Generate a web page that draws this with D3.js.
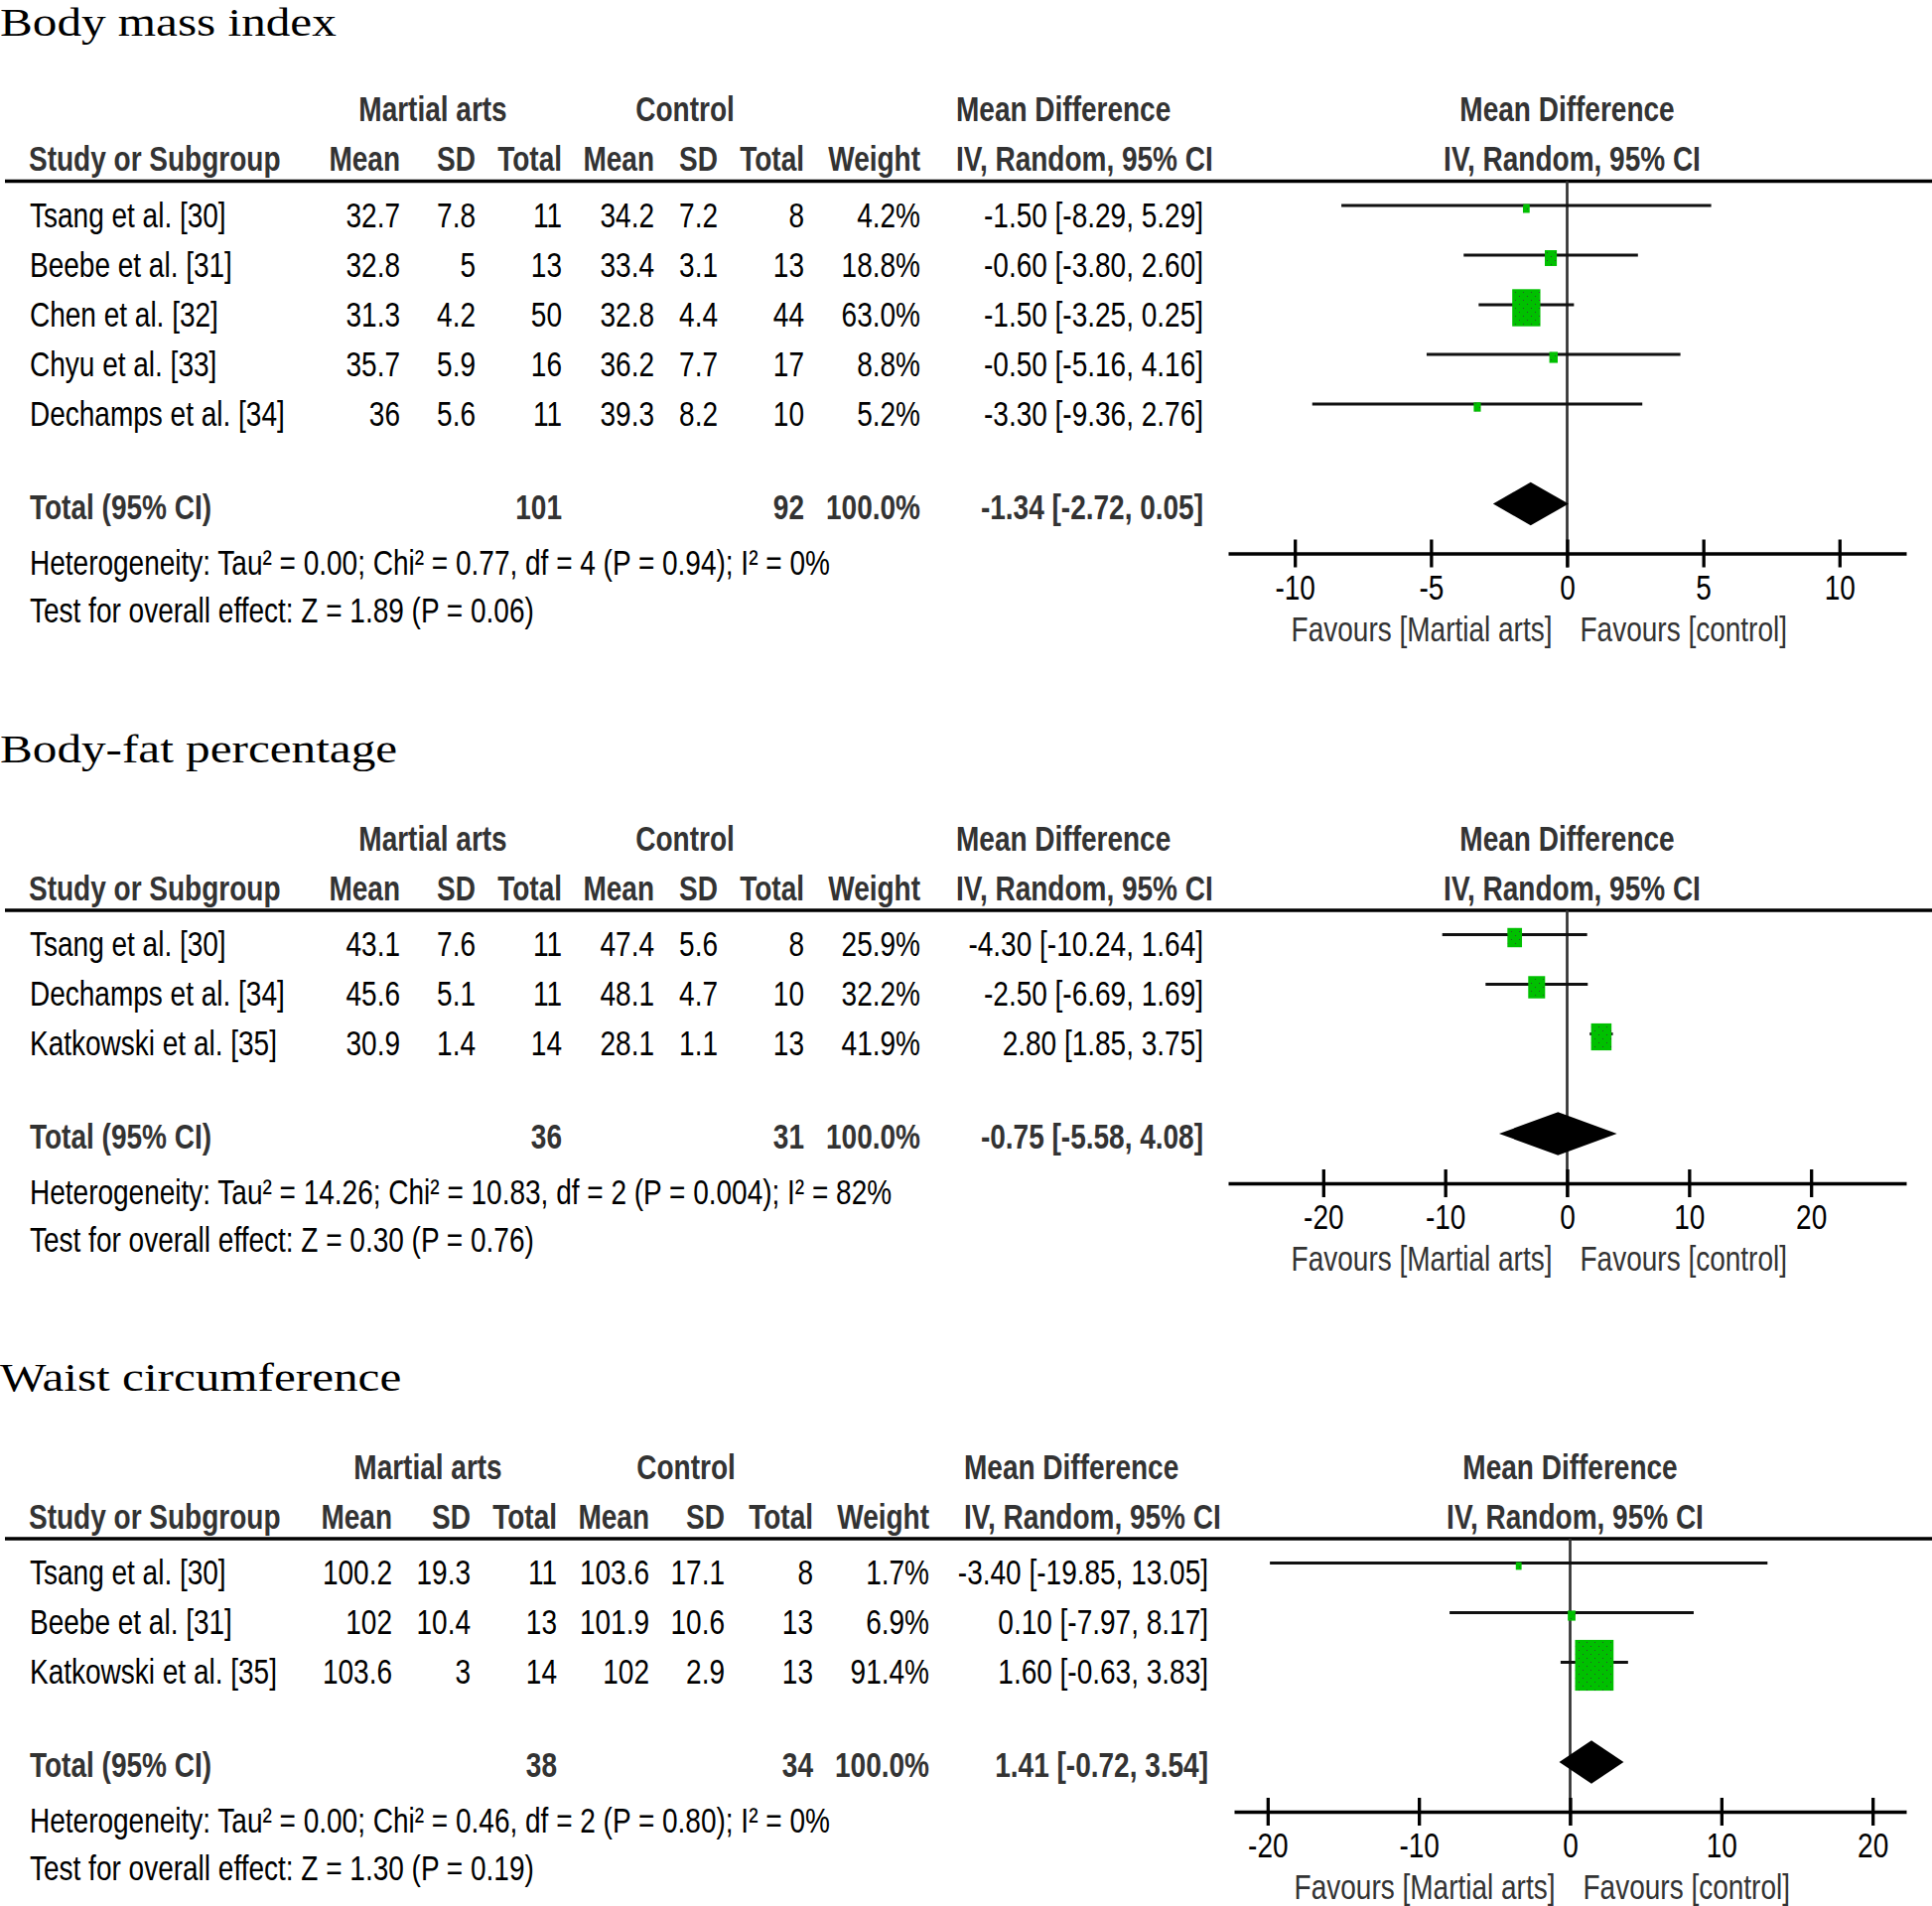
<!DOCTYPE html>
<html>
<head>
<meta charset="utf-8">
<script src="https://cdn.jsdelivr.net/npm/d3@7"></script>
<style>
  body { margin: 0; background: #fff; }
  svg { display: block; }
</style>
</head>
<body>
<svg id="chart"></svg>
<script>
// one row per study: name, MA mean, MA sd, MA n, control mean, control sd, control n, weight %, MD, CI low, CI high
const bmiRows = [
  ["Tsang et al. [30]", 32.7, 7.8, 11, 34.2, 7.2, 8, 4.2, -1.50, -8.29, 5.29],
  ["Beebe et al. [31]", 32.8, 5, 13, 33.4, 3.1, 13, 18.8, -0.60, -3.80, 2.60],
  ["Chen et al. [32]", 31.3, 4.2, 50, 32.8, 4.4, 44, 63.0, -1.50, -3.25, 0.25],
  ["Chyu et al. [33]", 35.7, 5.9, 16, 36.2, 7.7, 17, 8.8, -0.50, -5.16, 4.16],
  ["Dechamps et al. [34]", 36, 5.6, 11, 39.3, 8.2, 10, 5.2, -3.30, -9.36, 2.76]
];
// totals: MA n, control n, weight, MD, CI low, CI high
const bmiTotal = [101, 92, 100.0, -1.34, -2.72, 0.05];
const bmiHet = "Heterogeneity: Tau² = 0.00; Chi² = 0.77, df = 4 (P = 0.94); I² = 0%";
const bmiTest = "Test for overall effect: Z = 1.89 (P = 0.06)";
const bmiTicks = [-10, -5, 0, 5, 10];

const fatRows = [
  ["Tsang et al. [30]", 43.1, 7.6, 11, 47.4, 5.6, 8, 25.9, -4.30, -10.24, 1.64],
  ["Dechamps et al. [34]", 45.6, 5.1, 11, 48.1, 4.7, 10, 32.2, -2.50, -6.69, 1.69],
  ["Katkowski et al. [35]", 30.9, 1.4, 14, 28.1, 1.1, 13, 41.9, 2.80, 1.85, 3.75]
];
const fatTotal = [36, 31, 100.0, -0.75, -5.58, 4.08];
const fatHet = "Heterogeneity: Tau² = 14.26; Chi² = 10.83, df = 2 (P = 0.004); I² = 82%";
const fatTest = "Test for overall effect: Z = 0.30 (P = 0.76)";
const fatTicks = [-20, -10, 0, 10, 20];

const waistRows = [
  ["Tsang et al. [30]", 100.2, 19.3, 11, 103.6, 17.1, 8, 1.7, -3.40, -19.85, 13.05],
  ["Beebe et al. [31]", 102, 10.4, 13, 101.9, 10.6, 13, 6.9, 0.10, -7.97, 8.17],
  ["Katkowski et al. [35]", 103.6, 3, 14, 102, 2.9, 13, 91.4, 1.60, -0.63, 3.83]
];
const waistTotal = [38, 34, 100.0, 1.41, -0.72, 3.54];
const waistHet = "Heterogeneity: Tau² = 0.00; Chi² = 0.46, df = 2 (P = 0.80); I² = 0%";
const waistTest = "Test for overall effect: Z = 1.30 (P = 0.19)";
const waistTicks = [-20, -10, 0, 10, 20];

const width = 1946, height = 1920;
const sans = "'Liberation Sans', Arial, sans-serif";
const serif = "'Liberation Serif', 'Times New Roman', serif";
const green = "#00c000";

// column layouts (right edges of numeric columns)
const colsA = {mean1: 403, sd1: 479, n1: 566, mean2: 659, sd2: 723, n2: 810, w: 927, ci: 1212, ciHead: 963, maMid: 436, ctlMid: 690};
const colsB = {mean1: 395, sd1: 474, n1: 561, mean2: 654, sd2: 730, n2: 819, w: 936, ci: 1217, ciHead: 971, maMid: 431, ctlMid: 691};

const panels = [
  {title: "Body mass index", rows: bmiRows, total: bmiTotal, het: bmiHet, test: bmiTest, ticks: bmiTicks,
   top: 33, cols: colsA, range: [1237, 1920], lim: 12.45},
  {title: "Body-fat percentage", rows: fatRows, total: fatTotal, het: fatHet, test: fatTest, ticks: fatTicks,
   top: 767.5, cols: colsA, range: [1237, 1920], lim: 27.8},
  {title: "Waist circumference", rows: waistRows, total: waistTotal, het: waistHet, test: waistTest, ticks: waistTicks,
   top: 1400.5, cols: colsB, range: [1243, 1920], lim: 22.22}
];

const svg = d3.select("#chart")
  .attr("width", width)
  .attr("height", height)
  .style("background", "#fff");

// stippled green fill like the original boxes
const pat = svg.append("defs").append("pattern")
  .attr("id", "dots")
  .attr("patternUnits", "userSpaceOnUse")
  .attr("width", 8).attr("height", 8);
pat.append("rect").attr("width", 8).attr("height", 8).attr("fill", green);
pat.append("rect").attr("x", 2).attr("y", 2).attr("width", 1).attr("height", 1).attr("fill", "#2f4f2f");
pat.append("rect").attr("x", 6).attr("y", 6).attr("width", 1).attr("height", 1).attr("fill", "#2f4f2f");

// text is drawn narrow, like the source figure
function addText(g, x, y, str, o = {}) {
  return g.append("text")
    .attr("transform", `translate(${x},${y}) scale(${o.sx || 0.8},1)`)
    .attr("text-anchor", o.anchor || "start")
    .attr("font-family", o.serif ? serif : sans)
    .attr("font-size", o.size || 35)
    .attr("font-weight", o.bold ? "bold" : "normal")
    .attr("fill", o.color || "#000")
    .text(str);
}

const boxSize = d3.scaleLinear().domain([0, 100]).range([5.2, 41.9]);

panels.forEach((p, k) => {
  const g = svg.append("g");
  const T = p.top, c = p.cols;
  const x = d3.scaleLinear().domain([-p.lim, p.lim]).range(p.range);
  const head = "#333";

  // first title sits at the very top edge, keep it inside
  addText(g, 0, k === 0 ? T + 3 : T, p.title, {serif: true, size: 41, sx: 1.2});

  // header lines
  const h1 = T + 89, h2 = T + 139;
  addText(g, c.maMid, h1, "Martial arts", {bold: true, color: head, anchor: "middle"});
  addText(g, c.ctlMid, h1, "Control", {bold: true, color: head, anchor: "middle"});
  addText(g, c.ciHead, h1, "Mean Difference", {bold: true, color: head});
  addText(g, x(0), h1, "Mean Difference", {bold: true, color: head, anchor: "middle"});

  addText(g, 29, h2, "Study or Subgroup", {bold: true, color: head});
  [["Mean", c.mean1], ["SD", c.sd1], ["Total", c.n1], ["Mean", c.mean2], ["SD", c.sd2], ["Total", c.n2], ["Weight", c.w]]
    .forEach(([s, cx]) => addText(g, cx, h2, s, {bold: true, color: head, anchor: "end"}));
  addText(g, c.ciHead, h2, "IV, Random, 95% CI", {bold: true, color: head});
  addText(g, x(0) + 5, h2, "IV, Random, 95% CI", {bold: true, color: head, anchor: "middle"});

  const ruleY = T + 149.5;
  g.append("line")
    .attr("x1", 5).attr("x2", width)
    .attr("y1", ruleY).attr("y2", ruleY)
    .attr("stroke", "#000").attr("stroke-width", 3.3);

  const n = p.rows.length;
  const totalY = T + 239.5 + 50 * n;
  const axisY = totalY + 35;

  // zero line
  g.append("line")
    .attr("x1", x(0)).attr("x2", x(0))
    .attr("y1", ruleY).attr("y2", axisY + 14)
    .attr("stroke", "#333").attr("stroke-width", 2.7);

  p.rows.forEach((r, i) => {
    const by = T + 195.5 + 50 * i;
    addText(g, 30, by, r[0]);
    addText(g, c.mean1, by, String(r[1]), {anchor: "end"});
    addText(g, c.sd1, by, String(r[2]), {anchor: "end"});
    addText(g, c.n1, by, String(r[3]), {anchor: "end"});
    addText(g, c.mean2, by, String(r[4]), {anchor: "end"});
    addText(g, c.sd2, by, String(r[5]), {anchor: "end"});
    addText(g, c.n2, by, String(r[6]), {anchor: "end"});
    addText(g, c.w, by, r[7].toFixed(1) + "%", {anchor: "end"});
    addText(g, c.ci, by, `${r[8].toFixed(2)} [${r[9].toFixed(2)}, ${r[10].toFixed(2)}]`, {anchor: "end"});

    const ly = by - 21.5;
    g.append("line")
      .attr("x1", x(r[9])).attr("x2", x(r[10]))
      .attr("y1", ly).attr("y2", ly)
      .attr("stroke", "#111").attr("stroke-width", 2.8);
    const bw = boxSize(r[7]), bh = bw * 1.32;
    g.append("rect")
      .attr("x", x(r[8]) - bw / 2)
      .attr("y", ly + 3 - bh / 2)
      .attr("width", bw).attr("height", bh)
      .attr("fill", "url(#dots)");
  });

  // total row
  const t = p.total;
  addText(g, 30, totalY, "Total (95% CI)", {bold: true, color: head});
  addText(g, c.n1, totalY, String(t[0]), {bold: true, color: head, anchor: "end"});
  addText(g, c.n2, totalY, String(t[1]), {bold: true, color: head, anchor: "end"});
  addText(g, c.w, totalY, t[2].toFixed(1) + "%", {bold: true, color: head, anchor: "end"});
  addText(g, c.ci, totalY, `${t[3].toFixed(2)} [${t[4].toFixed(2)}, ${t[5].toFixed(2)}]`, {bold: true, color: head, anchor: "end"});

  const dy = totalY - 15;
  g.append("path")
    .attr("d", `M${x(t[4])},${dy}L${x(t[3])},${dy - 21.7}L${x(t[5])},${dy}L${x(t[3])},${dy + 21.7}Z`)
    .attr("fill", "#000");

  addText(g, 30, totalY + 56, p.het);
  addText(g, 30, totalY + 104, p.test);

  // axis
  const ax = g.append("g")
    .attr("transform", `translate(0,${axisY})`)
    .call(d3.axisBottom(x).tickValues(p.ticks).tickSize(14).tickSizeOuter(0).tickFormat(d => String(d)));
  ax.attr("font-size", 35).attr("font-family", sans).attr("color", "#000");
  ax.select(".domain").attr("stroke-width", 3.3);
  ax.selectAll(".tick line").attr("y1", -14).attr("y2", 14).attr("stroke-width", 3.3);
  ax.selectAll(".tick text")
    .attr("y", null).attr("dy", null)
    .attr("transform", "translate(0,46) scale(0.8,1)");

  addText(g, x(0) - 15, axisY + 88, "Favours [Martial arts]", {color: "#333", anchor: "end"});
  addText(g, x(0) + 13, axisY + 88, "Favours [control]", {color: "#333"});
});
</script>
</body>
</html>
